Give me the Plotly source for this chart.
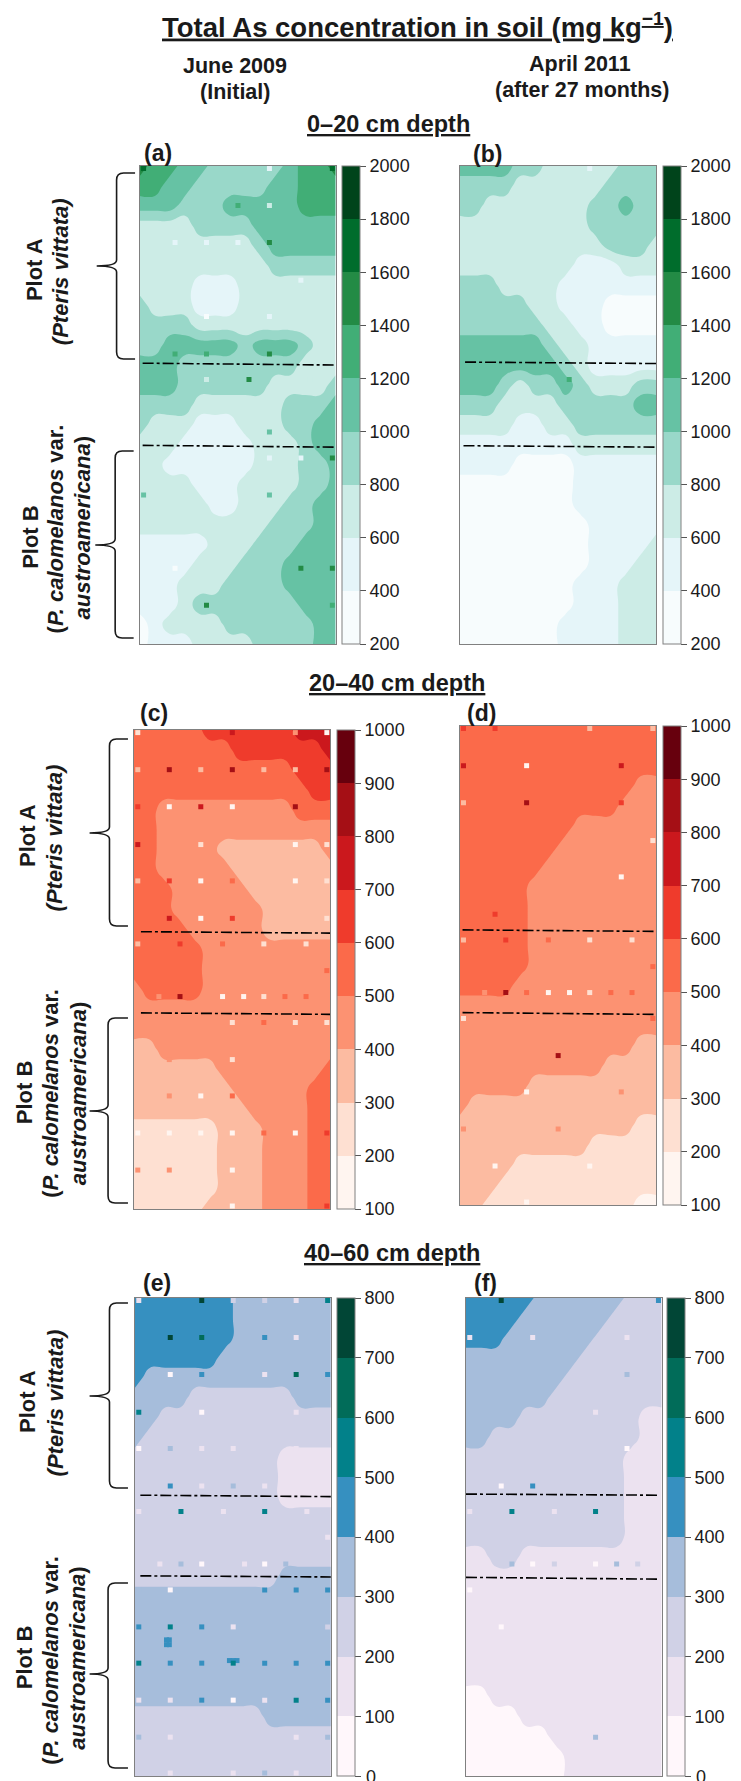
import plotly.graph_objects as go
import numpy as np

W, H = 741, 1781

# Class indices of the concentration field (14 x 25 nodes per panel)
field_a = ["65544333334556","55443333344555","44433344444555","22223333444444","22222222344444",
"22222222233333","22221112222222","32221112222222","33332222222222","33444443444322","44433333333222",
"44433333322223","33332222223334","32221112223344","22211111222344","22111111222334","22221112222334",
"22222112223344","22222222233344","11111222333444","11112223334444","11122233334444","11123333333444",
"01222233333344","01112222333344"]
field_b = ["44443322222333","33332222223333","33222222233433","22222222233333","22222222223332",
"22222222111222","33322221111111","33333221110000","33333322110000","44444432211111","44444443211111",
"44432334322233","33322223333344","22221122333333","11111111222222","11110000111111","00000000111111",
"00000000111111","00000000011111","00000000011112","00000000011122","00000000111222","00000000111222",
"00000001111222","00000001111222"]
field_c = ["44444555555666","44444445555556","44444444444555","44444444444455","44333333333444",
"44333333333333","44333322222223","44333332222222","44433333222222","44433333322222","44443333322222",
"44444333333333","44444333333333","34444333333333","33333333333333","33333333333333","22333333333333",
"22222233333334","22222223333344","22222222333344","11111122233344","11111122233344","11111122233344",
"11111122233344","11111222233344"]
field_d = ["44444444444444","44444444444444","44444444444444","44444444444433","44444444444333",
"44444444333333","44444443333333","44444433333333","44444333333333","44444333333333","44444333333333",
"44444333333333","44444333333333","44443333333333","33333333333333","33333333333333","33333333333322",
"33333333332222","33333222222222","32222222222222","22222222222211","22222222211111","22221111111111",
"22211111111111","22111111111100"]
field_e = ["44444443333333","44444443333333","44444443333333","44444433333333","43333333333333",
"33332222222333","33222222222222","32222222222222","22222222221111","22222222221111","22222222221111",
"22222222222222","22222222222222","22222222222222","22222222223333","33333333333333","33333333333333",
"33333333333333","33333333333333","33333333333333","33333333333333","22222222233333","22222222222222",
"22222222222222","22222222222222"]
field_f = ["44444333333222","44443333332222","44433333322222","33333333222222","33333332222222",
"33333322222222","33332222222211","33222222222211","22222222222111","22222222222111","22222222222111",
"22222222222111","22222222222111","11221111111111","11111111111111","11111111111111","11111111111111",
"11111111111111","11111111111111","11111111111111","00111111111111","00001111111111","00000011111111",
"00000001111111","00000001111111"]

# Sample rows (metres-like units down the plot)
sample_rows = [0, 1, 2, 3.02, 4, 5.01, 5.7, 7.12, 7.82, 8.82, 9.8, 10.8, 11.8, 12.77]

# Sampled points: row -> (column, class)
dots_a = {0:[(4,1),(0,7),(6,7)],1:[(3,5),(4,2)],2:[(1,1),(2,1),(3,1),(4,6)],3:[(5,1)],4:[(2,0),(3,2),(4,1)],
5:[(1,5),(2,5),(4,6)],6:[(2,2),(3.35,6),(4.65,2),(5.3,2)],7:[(4,4)],8:[(4,1),(5,1),(6,6)],9:[(0,4),(4,4)],
11:[(1,0),(5,6),(6,6)],12:[(2,6),(6,5)]}
dots_b = {0:[(4,1)],6:[(3.35,5)]}
dots_c = {0:[(0,1),(3,6),(5,3),(6,0)],1:[(0,2),(1,7),(2,2),(3,7),(4,2),(5,2),(6,7)],2:[(0,5),(1,0),(2,6),(3,0),(5,7)],
3:[(0,6),(2,1),(5,0),(6,1)],4:[(0,2),(1,5),(2,0),(3,4),(5,0),(6,1)],5:[(1,6),(2,0),(3,5),(6,1)],
6:[(0,2),(1.34,5),(2.69,4),(4,1),(5.34,1)],6.42:[(6,4)],7:[(0.67,3),(1.34,7),(2.69,0),(3.36,0),(4,1),(4.67,4),(5.34,4)],
8:[(3,1),(4,4),(5,1),(6,1)],9:[(1,3),(3,1)],10:[(1,3),(2,0),(3,4)],11:[(0,0),(1,0),(2,0),(3,0),(4,4),(5,0),(6,5)],
12:[(0,3),(1,3),(3,0)],13:[(3,0),(6,5)]}
dots_d = {0:[(0,5),(1,5),(4,2),(6,2)],1:[(0,6),(2,0),(5,6)],2:[(0,2),(2,7),(5,5)],3:[(6,1)],4:[(5,0)],5:[(1,5),(6,3)],
6:[(0,2),(1.34,5),(2.69,4),(4,1),(5.34,1)],6.42:[(6,4)],7:[(0.67,3),(1.34,7),(2,4),(2.69,0),(3.36,0),(4,1),(4.67,4),(5.34,4)],
8:[(0,1),(6,4)],9:[(3,7)],10:[(2,0),(5,3)],11:[(0,3),(3,3)],12:[(1,0),(4,0)],13:[(2,0)]}
dots_e = {0:[(0,1),(2,7),(3,2),(4,2),(5,1),(6,5)],1:[(1,7),(2,6),(4,4),(5,1)],2:[(1,0),(2,4),(4,1),(5,6),(6,4)],
3:[(0,5),(2,0),(5,1)],4:[(0,0),(1,3),(2,1),(3,1),(5,1)],5:[(1,4),(2,1),(3,3),(4,1)],
6:[(0,1),(1.34,5),(2.69,1),(4,5),(5.34,1)],6.4:[(6,1)],7:[(0.67,1),(1.34,3),(2,0),(3.36,1),(4,0),(4.67,3)],
8:[(0,3),(1,0),(4,4),(5,4),(6,4)],9:[(0,4),(1,5),(2,4),(3,1),(6,2)],
9.17:[(0.88,4),(0.97,4)],9.3:[(0.88,4),(0.97,4)],9.73:[(2.88,4),(3,4),(3.12,4)],
10:[(0,5),(1,4),(2,4),(3,5),(4,4),(5,4),(6,4)],11:[(0,1),(1,1),(2,4),(3,0),(4,1),(5,5),(6,4)],
12:[(0,3),(1,1),(5,1),(6,3)],13:[(1,1),(3,1),(4,3),(5,1)]}
dots_f = {0:[(1,7),(6,4)],1:[(0,1),(2,1),(5,1)],2:[(5,3)],3:[(4,1)],4:[(5,0)],5:[(1,0),(2,4)],
6:[(0,1),(1.34,5),(2.69,1),(4,5)],7:[(1.34,3),(2,0),(2.69,2),(4,0),(4.67,3),(5.34,2)],8:[(0,0)],9:[(1,0)],12:[(4,3)]}

# Plot boundary dash-dot lines: (x0, x1, y0, y1)
bounds_a = [(-0.03,6.09,5.26,5.31),(-0.03,6.09,7.48,7.53)]
bounds_b = [(0.05,6.2,5.23,5.27),(0.0,6.2,7.49,7.53)]
bounds_c = [(0.1,6.23,5.37,5.41),(0.1,6.23,7.56,7.6)]
bounds_d = [(-0.03,6.15,5.43,5.47),(-0.03,6.15,7.66,7.71)]
bounds_e = [(0.05,6.2,5.26,5.3),(0.05,6.2,7.44,7.47)]
bounds_f = [(-0.12,6.02,5.23,5.26),(-0.12,6.02,7.48,7.53)]

bugn = ["#F7FCFD","#E5F5F9","#CCECE6","#99D8C9","#66C2A4","#41AE76","#238B45","#006D2C","#00441B"]
reds = ["#FFF5F0","#FEE0D2","#FCBBA1","#FC9272","#FB6A4A","#EF3B2C","#CB181D","#A50F15","#67000D"]
pubugn = ["#FFF7FB","#ECE2F0","#D0D1E6","#A6BDDB","#3690C0","#02818A","#016C59","#014636"]

ticks_bugn = [200,400,600,800,1000,1200,1400,1600,1800,2000]
ticks_reds = [100,200,300,400,500,600,700,800,900,1000]
ticks_pubugn = [0,100,200,300,400,500,600,700,800]

# panel layout in page pixels: left, right, top, bottom, colourbar left
panels = [
 ("a",field_a,dots_a,bounds_a,bugn,ticks_bugn,(139.8,335.5,166,644,342)),
 ("b",field_b,dots_b,bounds_b,bugn,ticks_bugn,(459.7,656,166,644,662.5)),
 ("c",field_c,dots_c,bounds_c,reds,ticks_reds,(134,330,730,1209,337)),
 ("d",field_d,dots_d,bounds_d,reds,ticks_reds,(459.7,656,726,1205,662.5)),
 ("e",field_e,dots_e,bounds_e,pubugn,ticks_pubugn,(135,330.8,1298,1776,337)),
 ("f",field_f,dots_f,bounds_f,pubugn,ticks_pubugn,(466,661.6,1298,1776,667)),
]
XLIM = (-0.12, 6.1)
YLIM = (12.85, -0.07)
SANS = "Liberation Sans, Arial"
INK = "#1a1a1a"
XS = 3 / 2.11   # converts my first-pass x readings to page pixels

px = lambda v: v / W
py = lambda v: 1 - v / H

def stepped(colors):
    n = len(colors)
    out = []
    for i, c in enumerate(colors):
        out += [[i / n, c], [(i + 1) / n, c]]
    return out

fig = go.Figure()
layout_axes = {}
ann = []
for i, (name, field, dots, bounds, colors, ticks, (l, r, t, b, cb)) in enumerate(panels):
    sfx = "" if i == 0 else str(i + 1)
    xa, ya = "x" + sfx, "y" + sfx
    layout_axes["xaxis" + sfx] = dict(domain=[px(l), px(r)], range=list(XLIM), anchor=ya, showticklabels=False,
        ticks="", showgrid=False, zeroline=False, showline=True, mirror=True, linecolor="#808080", linewidth=1)
    layout_axes["yaxis" + sfx] = dict(domain=[py(b), py(t)], range=list(YLIM), anchor=xa, showticklabels=False,
        ticks="", showgrid=False, zeroline=False, showline=True, mirror=True, linecolor="#808080", linewidth=1)
    lo, step = ticks[0], ticks[1] - ticks[0]
    z = [[lo + step * (int(ch) + 0.5) for ch in row] for row in field]
    labels = [str(v) for v in ticks]
    if ticks[0] == 0:
        labels[0] = "\u00a0"
        ann.append(dict(text="0", x=px(cb + 27), y=py(b + 1), xref="paper", yref="paper", xanchor="left", yanchor="middle",
                        showarrow=False, font=dict(family=SANS, size=18, color=INK)))
    fig.add_trace(go.Contour(
        x=np.linspace(XLIM[0], XLIM[1], 14), y=np.linspace(YLIM[1], YLIM[0], 25), z=z,
        xaxis=xa, yaxis=ya, autocontour=False,
        contours=dict(start=ticks[0], end=ticks[-1], size=step, coloring="fill", showlines=True),
        line=dict(width=0, smoothing=1.3), colorscale=stepped(colors), zmin=ticks[0], zmax=ticks[-1],
        hoverinfo="skip",
        colorbar=dict(x=px(cb), xanchor="left", y=py(t), yanchor="top", lenmode="fraction", len=(b - t) / H,
            thickness=18, thicknessmode="pixels", xpad=0, ypad=0, outlinecolor="#808080", outlinewidth=1,
            tickmode="array", tickvals=ticks, ticktext=labels, ticks="outside", ticklen=6,
            tickcolor="#555555", tickfont=dict(family=SANS, size=18, color=INK)),
    ))
    xs, ys, cs = [], [], []
    for row, items in dots.items():
        y = sample_rows[row] if isinstance(row, int) else row
        for col, cls in items:
            xs.append(col); ys.append(y); cs.append(colors[cls])
    fig.add_trace(go.Scatter(x=xs, y=ys, mode="markers", xaxis=xa, yaxis=ya, showlegend=False, hoverinfo="skip",
        marker=dict(symbol="square", size=5, color=cs, line=dict(width=0))))
    for x0, x1, y0, y1 in bounds:
        fig.add_trace(go.Scatter(x=[x0, x1], y=[y0, y1], mode="lines", xaxis=xa, yaxis=ya, showlegend=False,
            hoverinfo="skip", cliponaxis=False, line=dict(color="black", width=1.6, dash="11px,3px,3px,3px")))

def note(text, x, y, size, anchor="center", angle=0, under=False):
    f = dict(family=SANS, size=size, color=INK)
    if under:
        f["lineposition"] = "under"
    return dict(text=text, x=px(x * XS), y=py(y), xref="paper", yref="paper", xanchor=anchor, yanchor="middle",
                showarrow=False, textangle=angle, font=f)

ann += [
 note("<b>Total As concentration in soil (mg kg<sup>−1</sup>)</b>", 293.5, 25, 27.5, under=True),
 note("<b>June 2009</b>", 165, 66, 21.5), note("<b>(Initial)</b>", 165, 92, 21.5),
 note("<b>April 2011</b>", 408, 64, 21.5), note("<b>(after 27 months)</b>", 409, 90, 21.5),
 note("<b>0–20 cm depth</b>", 273, 124, 23.5, under=True),
 note("<b>20–40 cm depth</b>", 279, 683, 23.5, under=True),
 note("<b>40–60 cm depth</b>", 276, 1253, 23.5, under=True),
 note("<b>(a)</b>", 100, 153, 23, anchor="left"), note("<b>(b)</b>", 331, 154, 23, anchor="left"),
 note("<b>(c)</b>", 97, 713, 23, anchor="left"), note("<b>(d)</b>", 327, 713, 23, anchor="left"),
 note("<b>(e)</b>", 99, 1283, 23, anchor="left"), note("<b>(f)</b>", 332, 1283, 23, anchor="left"),
]
side = [
 (24,270,43,272,None,None,None),
 (21,537,39,529,58,528,"B"),
 (19,836,39,838,None,None,None),
 (17,1092,35,1093,55,1094,"B"),
 (19,1402,39,1403,None,None,None),
 (17,1657,35,1660,54,1658,"B"),
]
for x1,y1,x2,y2,x3,y3,kind in side:
    if kind is None:
        ann.append(note("<b>Plot A</b>", x1, y1, 22, angle=-90))
        ann.append(note("<b><i>(Pteris vittata)</i></b>", x2, y2, 22, angle=-90))
    else:
        ann.append(note("<b>Plot B</b>", x1, y1, 22, angle=-90))
        ann.append(note("<b>(<i>P. calomelanos</i> var.</b>", x2, y2, 22, angle=-90))
        ann.append(note("<b><i>austroamericana</i>)</b>", x3, y3, 22, angle=-90))

def brace(xend, xline, xtip, ytop, ymid, ybot):
    c = 7
    xend, xline, xtip = xend * XS, xline * XS, xtip * XS
    P = lambda x, y: f"{px(x):.5f},{py(y):.5f}"
    d = ("M " + P(xend, ytop) + " L " + P(xline + c, ytop) + " Q " + P(xline, ytop) + " " + P(xline, ytop + c)
         + " L " + P(xline, ymid - 6) + " Q " + P(xline, ymid) + " " + P(xtip, ymid)
         + " Q " + P(xline, ymid) + " " + P(xline, ymid + 6) + " L " + P(xline, ybot - c)
         + " Q " + P(xline, ybot) + " " + P(xline + c, ybot) + " L " + P(xend, ybot))
    return dict(type="path", path=d, xref="paper", yref="paper", line=dict(color=INK, width=1.6))

shapes = [
 brace(95,82,68,173,266,359), brace(94,81,67,451,545,638),
 brace(90,77,63,739,833,926), brace(90,76,63,1018,1111,1203),
 brace(90,77,63,1303,1396,1488), brace(90,76,63,1583,1674,1768),
]

fig.update_layout(width=W, height=H, margin=dict(l=0, r=0, t=0, b=0), paper_bgcolor="white", plot_bgcolor="white",
                  showlegend=False, annotations=ann, shapes=shapes, **layout_axes)
fig.write_html("out.html", config=dict(displayModeBar=False), post_script="document.body.style.margin='0';")
